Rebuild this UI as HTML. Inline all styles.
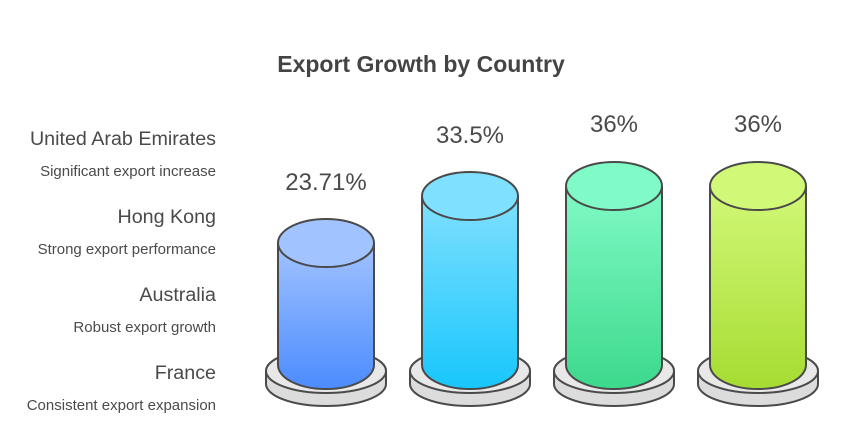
<!DOCTYPE html>
<html><head><meta charset="utf-8"><style>
html,body{margin:0;padding:0;background:#fff;}
svg{display:block;font-family:"Liberation Sans",sans-serif;}
</style></head><body>
<svg width="843" height="439" viewBox="0 0 843 439" xmlns="http://www.w3.org/2000/svg">
<defs>
<linearGradient id="g1" x1="0" y1="0" x2="0" y2="1"><stop offset="0" stop-color="#a1c3ff"/><stop offset="1" stop-color="#4c8cff"/></linearGradient>
<linearGradient id="g2" x1="0" y1="0" x2="0" y2="1"><stop offset="0" stop-color="#80e0ff"/><stop offset="1" stop-color="#18c6fc"/></linearGradient>
<linearGradient id="g3" x1="0" y1="0" x2="0" y2="1"><stop offset="0" stop-color="#80fac6"/><stop offset="1" stop-color="#3dd98c"/></linearGradient>
<linearGradient id="g4" x1="0" y1="0" x2="0" y2="1"><stop offset="0" stop-color="#d2f878"/><stop offset="1" stop-color="#a6dc32"/></linearGradient>
</defs>
<text x="421" y="72" text-anchor="middle" font-size="23" font-weight="bold" fill="#444">Export Growth by Country</text>
<g fill="#4a4a4a" text-anchor="end">
<text x="216" y="145" font-size="19.7">United Arab Emirates</text>
<text x="216" y="176" font-size="15">Significant export increase</text>
<text x="216" y="223" font-size="19.7">Hong Kong</text>
<text x="216" y="254" font-size="15">Strong export performance</text>
<text x="216" y="301" font-size="19.7">Australia</text>
<text x="216" y="332" font-size="15">Robust export growth</text>
<text x="216" y="379" font-size="19.7">France</text>
<text x="216" y="410" font-size="15">Consistent export expansion</text>
</g>
<g stroke="#4a4a4a" stroke-width="2">
<g>
<path d="M266 384 v-13 a60 22 0 0 1 120 0 v13 a60 22 0 0 1 -120 0z" fill="#dcdcdc"/>
<ellipse cx="326" cy="371" rx="60" ry="22" fill="#e8e8e8"/>
<path d="M278 243 V365 a48 24 0 0 0 96 0 V243" fill="url(#g1)"/>
<ellipse cx="326" cy="243" rx="48" ry="24" fill="#a1c3ff"/>
</g>
<g>
<path d="M410 384 v-13 a60 22 0 0 1 120 0 v13 a60 22 0 0 1 -120 0z" fill="#dcdcdc"/>
<ellipse cx="470" cy="371" rx="60" ry="22" fill="#e8e8e8"/>
<path d="M422 196 V365 a48 24 0 0 0 96 0 V196" fill="url(#g2)"/>
<ellipse cx="470" cy="196" rx="48" ry="24" fill="#80e0ff"/>
</g>
<g>
<path d="M554 384 v-13 a60 22 0 0 1 120 0 v13 a60 22 0 0 1 -120 0z" fill="#dcdcdc"/>
<ellipse cx="614" cy="371" rx="60" ry="22" fill="#e8e8e8"/>
<path d="M566 186 V365 a48 24 0 0 0 96 0 V186" fill="url(#g3)"/>
<ellipse cx="614" cy="186" rx="48" ry="24" fill="#80fac6"/>
</g>
<g>
<path d="M698 384 v-13 a60 22 0 0 1 120 0 v13 a60 22 0 0 1 -120 0z" fill="#dcdcdc"/>
<ellipse cx="758" cy="371" rx="60" ry="22" fill="#e8e8e8"/>
<path d="M710 186 V365 a48 24 0 0 0 96 0 V186" fill="url(#g4)"/>
<ellipse cx="758" cy="186" rx="48" ry="24" fill="#d2f878"/>
</g>
</g>
<g fill="#4a4a4a" font-size="24" text-anchor="middle">
<text x="326" y="190">23.71%</text>
<text x="470" y="143">33.5%</text>
<text x="614" y="132">36%</text>
<text x="758" y="132">36%</text>
</g>
</svg>
</body></html>
